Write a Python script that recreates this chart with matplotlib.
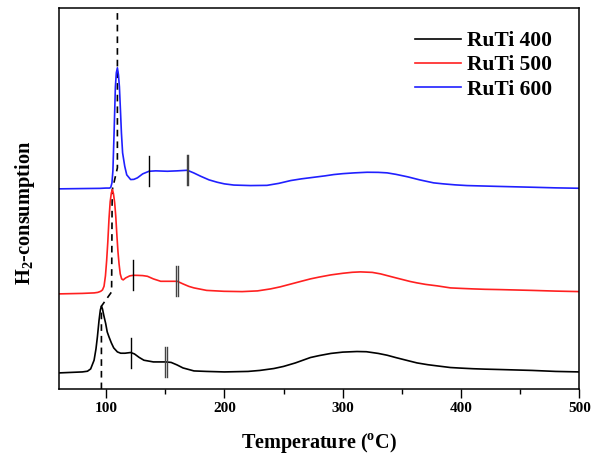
import numpy as np
import matplotlib
matplotlib.use("Agg")
import matplotlib.pyplot as plt
from matplotlib.ticker import MultipleLocator

plt.rcParams['font.family'] = ['Liberation Serif', 'DejaVu Serif']
plt.rcParams['font.weight'] = 'bold'
plt.rcParams['mathtext.fontset'] = 'custom'
plt.rcParams['mathtext.rm'] = 'Liberation Serif:bold'
plt.rcParams['mathtext.bf'] = 'Liberation Serif:bold'

# RuTi 400 (black)
t_400 = [60, 70, 80, 84.3, 87, 89.9, 91.5, 92.7, 94.1, 95.2, 96.1, 97, 98.2, 99.7, 101,
         102.5, 104.5, 106.5, 109.6, 112.4, 116, 120.8, 124, 128, 132, 140, 150.4, 155,
         160, 165, 174.3, 185, 200, 220, 230, 241.8, 250, 260, 272.7, 280, 290, 300, 312,
         320, 330, 337.5, 345, 355, 362.8, 372, 380, 391, 400, 410, 420, 433, 460, 480, 500]
s_400 = [0, 0.5, 1, 1.7, 4, 12.7, 24, 36, 52.7, 63, 66.7, 64, 57, 49.4, 41,
         36, 30, 25, 21, 19.7, 19.7, 20.4, 19, 15.5, 12.7, 11, 11, 10.5,
         8, 5, 2, 1.5, 1, 1.5, 2.5, 4.4, 6.5, 10, 15.4, 17.3, 19.5, 20.8, 21.4,
         21.2, 19.5, 17.7, 15.3, 12.3, 10, 8.2, 7, 5.4, 4.8, 4.2, 3.8, 3.4, 2.5, 1.5, 1]

# RuTi 500 (red)
t_500 = [60, 80, 90, 93, 95.5, 97, 98.3, 99.5, 100.5, 101.5, 102.5, 103.5, 104.5, 105.4,
         106.3, 107.3, 108.2, 109.2, 110.1, 111, 112, 113.2, 114.5, 116.6, 120, 123.1,
         127, 131, 135, 140, 146.2, 153, 160.2, 165, 170, 174.3, 185, 199.6, 215, 228, 239,
         247, 255, 263, 272.7, 280, 290, 300, 308, 315, 325, 332, 337.5, 345, 350, 357,
         362.8, 370, 380, 391, 400, 410, 420, 433, 460, 480, 500]
s_500 = [0, 0.5, 1, 1.5, 2.6, 4, 7.6, 18, 33, 52, 75, 92, 101, 104.3,
         100, 91, 78, 58, 42, 30, 20, 15, 14, 16, 18, 18.6,
         18.5, 18.3, 17.6, 15, 12.6, 12.6, 12.6, 10, 7.5, 6, 3.5, 2.6, 2.3, 3, 5,
         7, 9.5, 12, 15, 16.8, 19, 20.6, 21.6, 22, 21.5, 20, 18.3, 16, 14.5, 12.4,
         11, 9.5, 8, 6, 5.5, 5, 4.6, 4.3, 3.5, 2.8, 2.3]

# RuTi 600 (blue)
t_600 = [60, 80, 95, 100, 103, 104, 105, 105.8, 106.8, 107.9, 108.7, 109.6, 110.5, 111.3,
         112.2, 113, 114, 115.8, 117.5, 120.8, 123.5, 126.5, 131, 136.3, 142, 151.8, 160,
         168.7, 174, 180, 187, 194, 200, 208, 222, 236, 246, 256, 265, 275, 285, 292.4,
         300, 310, 320.6, 330, 337.5, 345, 355, 365, 376.8, 385, 395, 405, 430, 461, 480, 500]
s_600 = [0, 0.3, 0.5, 0.8, 0.8, 1.5, 6, 18, 56, 102, 116, 121, 114, 102,
         78, 56, 36, 22.6, 14, 9.3, 9.5, 11, 15, 17.6, 18, 17.6, 18,
         18.6, 16, 12.6, 9, 6.6, 5, 3.8, 3.3, 3.5, 5.5, 8.3, 10, 11.5, 13, 14.3,
         15.2, 16, 16.6, 16.5, 16, 14.5, 12, 9, 6, 5, 4, 3.3, 2.5, 1.6, 1, 0.6]

labels = ['RuTi 400', 'RuTi 500', 'RuTi 600']
colors = ['black', '#ff2020', '#2020ff']
offsets = [17, 96, 201]
peak_T = [96.1, 105.2, 109.6]
single_T = [120.8, 123.1, 136.3]
double_T = [150.4, 160.2, 168.7]

series = [(t_400, s_400), (t_500, s_500), (t_600, s_600)]

fig = plt.figure(figsize=(6.02, 4.59), dpi=100)
ax = fig.add_axes([0.0975, 0.152, 0.865, 0.831])

ymin, ymax = 0.7, 382
for (t, s), c, off, lab in zip(series, colors, offsets, labels):
    y = np.array(s) + off
    ax.plot(t, y, color=c, lw=1.2, label=lab)

# markers on each curve
for (t, s), off, ts, td in zip(series, offsets, single_T, double_T):
    ys = np.interp(ts, t, s) + off
    ax.plot([ts, ts], [ys - 15, ys + 15], color='black', lw=1.0)
    yd = np.interp(td, t, s) + off
    for dx in (-0.7, 0.7):
        ax.plot([td + dx, td + dx], [yd - 15, yd + 15], color='#444444', lw=1.0)

# dashed guide through the main peaks
pk = [np.interp(p, t, s) + off for p, (t, s), off in zip(peak_T, series, offsets)]
gx = [peak_T[0], peak_T[0], peak_T[1] - 0.5, peak_T[1], peak_T[2], peak_T[2]]
gy = [ymin, pk[0], offsets[1] + 2, pk[1], offsets[2] + 21, ymax]
ax.plot(gx, gy, color='black', lw=1.2, ls=(0, (4, 3)), zorder=0)

ax.set_xlim(60, 500)
ax.set_ylim(ymin, ymax)
ax.xaxis.set_major_locator(MultipleLocator(100))
ax.xaxis.set_minor_locator(MultipleLocator(50))
ax.tick_params(axis='x', which='major', direction='out', length=6.5, width=1, labelsize=11, pad=3)
ax.tick_params(axis='x', which='minor', direction='out', length=3.5, width=1)
ax.set_yticks([])
for sp in ax.spines.values():
    sp.set_linewidth(1.1)

ax.set_xlabel(r'Temperature ($^\mathrm{o}$C)', fontsize=14.5, fontweight='bold', labelpad=11)
ax.set_ylabel(r'H$_\mathrm{2}$-consumption', fontsize=14.7, fontweight='bold')
ax.yaxis.set_label_coords(-0.042, 0.462)

ax.legend(loc='upper right', frameon=False, fontsize=15.5, handlelength=2.1,
          handletextpad=0.3, labelspacing=0.2, bbox_to_anchor=(0.985, 0.99))

fig.savefig('out.png', dpi=100)
